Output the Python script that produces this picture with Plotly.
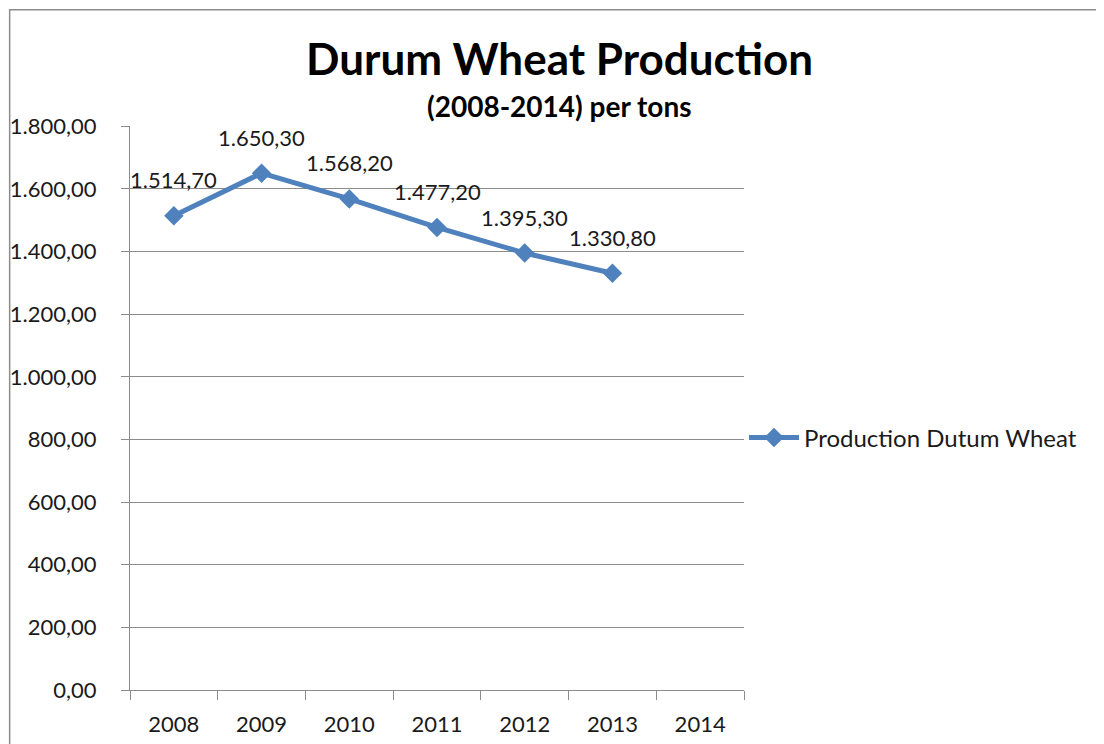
import plotly.graph_objects as go

# DATA
years = ["2008", "2009", "2010", "2011", "2012", "2013", "2014"]
production = [1514.70, 1650.30, 1568.20, 1477.20, 1395.30, 1330.80, None]
y_ticks = [0, 200, 400, 600, 800, 1000, 1200, 1400, 1600, 1800]

BLUE = '#4F81BD'
GRID = '#8c8c8c'
FONT = 'Lato'


def eu(v):
    # 1514.7 -> "1.514,70"
    return f"{v:,.2f}".replace(",", "X").replace(".", ",").replace("X", ".")


# CREATE LINE
fig = go.Figure()
fig.add_trace(go.Scatter(x=years, y=production, mode='lines+markers',
                         name='Production Dutum Wheat',
                         line=dict(color=BLUE, width=5),
                         marker=dict(symbol='diamond', size=15, color=BLUE)))

# DATA LABELS (x by category index, numeric-looking names get cast otherwise)
for i, v in enumerate(production):
    if v is None:
        continue
    fig.add_annotation(x=i, y=v, text=eu(v), showarrow=False, yshift=36,
                       xanchor='center', yanchor='middle',
                       font=dict(family=FONT, size=22, color='#1a1a1a'))

# FORMAT (page body has an 8px margin, so the figure starts at 8,8)
fig.update_layout(width=1096, height=736, separators=',.',
                  plot_bgcolor='white', paper_bgcolor='white',
                  margin=dict(l=122, r=360, t=118, b=54),
                  font=dict(family=FONT, size=22, color='#1a1a1a'),
                  showlegend=True,
                  legend=dict(x=1.0, xanchor='left', y=0.447, yanchor='middle',
                              font=dict(size=24), itemwidth=50,
                              bgcolor='rgba(0,0,0,0)'))

fig.update_xaxes(type='category', range=[-0.5, 6.5], showgrid=False, automargin=False,
                 showline=True, linecolor=GRID, linewidth=1,
                 ticks='outside', tickson='boundaries', ticklen=9, tickcolor=GRID,
                 tickfont=dict(size=22), ticklabelstandoff=15)
fig.update_yaxes(range=[0, 1801], tickvals=y_ticks, tickformat=',.2f', automargin=False,
                 showgrid=True, gridcolor=GRID, gridwidth=1,
                 showline=True, linecolor=GRID, linewidth=1, zeroline=False,
                 ticks='outside', ticklen=8, tickcolor=GRID,
                 tickfont=dict(size=22), ticklabelstandoff=20)

# TITLES
fig.add_annotation(xref='paper', yref='paper', x=0.699, y=1.1206, text='<b>Durum Wheat Production</b>',
                   xanchor='center', yanchor='middle',
                   showarrow=False, font=dict(family=FONT, size=44, color='black'))
fig.add_annotation(xref='paper', yref='paper', x=0.7, y=1.0355, text='<b>(2008-2014) per tons</b>',
                   xanchor='center', yanchor='middle',
                   showarrow=False, font=dict(family=FONT, size=28, color='black'))

# OUTER CHART BORDER
fig.add_shape(type='rect', xref='paper', yref='paper', x0=-0.196, x1=1.583, y0=-0.2, y1=1.206,
              line=dict(color=GRID, width=1.5), layer='below')

fig.write_html("out.html")
